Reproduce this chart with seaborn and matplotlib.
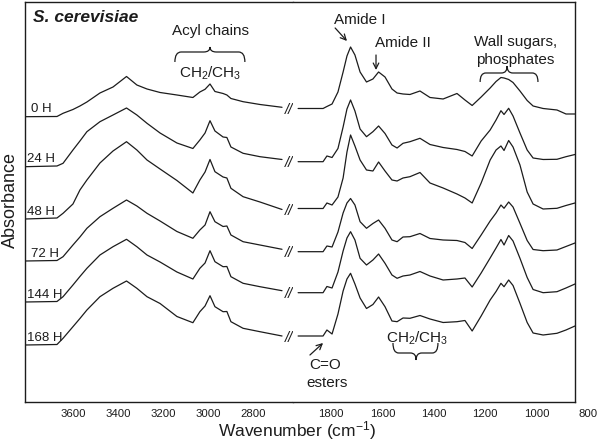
import numpy as np
import pandas as pd
import matplotlib
matplotlib.use("Agg")
import matplotlib.pyplot as plt
from matplotlib.path import Path
from matplotlib.patches import PathPatch
import seaborn as sns

# %%
times = ["0 H", "24 H", "48 H", "72 H", "144 H", "168 H"]

# high wavenumber window (cm-1)
wn_left = [3813, 3671, 3644, 3600, 3569, 3538, 3480, 3422, 3362, 3316, 3271, 3213,
           3138, 3067, 3036, 3013, 2991, 2969, 2933, 2916, 2898, 2844, 2769, 2671]

left_0h = [2.853, 2.855, 2.887, 2.925, 2.96, 3.00, 3.09, 3.15, 3.255, 3.17, 3.13, 3.095,
           3.07, 3.045, 3.10, 3.127, 3.18, 3.105, 3.085, 3.07, 3.035, 3.003, 2.975, 2.947]
left_24h = [2.353, 2.36, 2.387, 2.52, 2.61, 2.703, 2.803, 2.87, 2.94, 2.87, 2.787, 2.69,
            2.59, 2.535, 2.62, 2.69, 2.813, 2.71, 2.65, 2.645, 2.55, 2.487, 2.453, 2.425]
left_48h = [1.83, 1.84, 1.887, 1.98, 2.12, 2.22, 2.39, 2.51, 2.603, 2.52, 2.42, 2.33,
            2.215, 2.09, 2.22, 2.30, 2.425, 2.303, 2.25, 2.24, 2.137, 2.053, 2.00, 1.925]
left_72h = [1.41, 1.415, 1.453, 1.57, 1.65, 1.737, 1.853, 1.937, 2.02, 1.96, 1.887, 1.81,
            1.705, 1.637, 1.72, 1.77, 1.903, 1.803, 1.755, 1.76, 1.67, 1.603, 1.57, 1.527]
left_144h = [1.00, 1.005, 1.053, 1.17, 1.255, 1.337, 1.47, 1.553, 1.627, 1.553, 1.47, 1.40,
             1.30, 1.23, 1.337, 1.39, 1.513, 1.403, 1.353, 1.355, 1.253, 1.187, 1.153, 1.113]
left_168h = [0.57, 0.575, 0.637, 0.753, 0.835, 0.92, 1.053, 1.137, 1.21, 1.137, 1.053, 0.985,
             0.855, 0.793, 0.903, 0.96, 1.063, 0.953, 0.903, 0.905, 0.803, 0.737, 0.703, 0.66]

# fingerprint window (cm-1)
wn_right = [1928, 1831, 1816, 1796, 1773, 1753, 1738, 1724, 1707, 1687, 1662, 1637, 1615,
            1590, 1563, 1543, 1520, 1493, 1454, 1415, 1364, 1310, 1279, 1251, 1216, 1181,
            1158, 1139, 1127, 1109, 1092, 1065, 1037, 1014, 975, 921, 886, 851]

right_0h = [2.935, 2.935, 2.955, 2.98, 3.10, 3.30, 3.46, 3.55, 3.47, 3.30, 3.20, 3.23, 3.30,
            3.25, 3.13, 3.09, 3.08, 3.075, 3.11, 3.045, 3.03, 3.085, 3.02, 2.965, 3.05, 3.14,
            3.205, 3.245, 3.24, 3.225, 3.195, 3.11, 3.015, 2.96, 2.935, 2.92, 2.88, 2.88]
right_24h = [2.403, 2.403, 2.46, 2.445, 2.535, 2.75, 2.93, 3.02, 2.91, 2.73, 2.653, 2.703, 2.76,
             2.685, 2.57, 2.54, 2.587, 2.603, 2.637, 2.575, 2.545, 2.525, 2.505, 2.46, 2.61, 2.72,
             2.82, 2.913, 2.875, 2.937, 2.86, 2.69, 2.52, 2.44, 2.425, 2.427, 2.453, 2.475]
right_48h = [1.935, 1.935, 1.99, 1.97, 2.05, 2.24, 2.50, 2.67, 2.56, 2.42, 2.32, 2.31, 2.40,
             2.31, 2.22, 2.21, 2.24, 2.253, 2.295, 2.19, 2.14, 2.08, 2.04, 1.99, 2.19, 2.42,
             2.52, 2.56, 2.515, 2.615, 2.55, 2.37, 2.10, 1.98, 1.93, 1.937, 1.965, 1.99]
right_72h = [1.503, 1.503, 1.56, 1.55, 1.70, 1.89, 1.99, 2.035, 1.97, 1.803, 1.737, 1.785, 1.82,
             1.737, 1.62, 1.603, 1.65, 1.653, 1.685, 1.635, 1.62, 1.615, 1.595, 1.535, 1.67, 1.81,
             1.89, 1.97, 1.937, 2.00, 1.95, 1.787, 1.615, 1.525, 1.513, 1.52, 1.555, 1.59]
right_144h = [1.093, 1.093, 1.155, 1.14, 1.30, 1.51, 1.64, 1.703, 1.62, 1.437, 1.37, 1.42, 1.48,
              1.387, 1.27, 1.237, 1.26, 1.27, 1.305, 1.26, 1.22, 1.23, 1.24, 1.15, 1.29, 1.44,
              1.54, 1.625, 1.57, 1.665, 1.61, 1.437, 1.245, 1.125, 1.093, 1.103, 1.14, 1.18]
right_168h = [0.66, 0.66, 0.72, 0.68, 0.88, 1.11, 1.23, 1.287, 1.18, 1.04, 0.935, 0.975, 1.05,
              0.953, 0.81, 0.803, 0.84, 0.837, 0.865, 0.83, 0.795, 0.803, 0.815, 0.71, 0.86, 1.02,
              1.105, 1.187, 1.153, 1.22, 1.165, 0.987, 0.795, 0.69, 0.67, 0.687, 0.72, 0.76]

left_ticks = [3600, 3400, 3200, 3000, 2800]
right_ticks = [1800, 1600, 1400, 1200, 1000]

# %%
left_series = [left_0h, left_24h, left_48h, left_72h, left_144h, left_168h]
right_series = [right_0h, right_24h, right_48h, right_72h, right_144h, right_168h]

df_left = pd.concat(
    [pd.DataFrame({"wn": wn_left, "A": s, "time": t}) for t, s in zip(times, left_series)],
    ignore_index=True)
df_right = pd.concat(
    [pd.DataFrame({"wn": wn_right, "A": s, "time": t}) for t, s in zip(times, right_series)],
    ignore_index=True)

sns.set_style("white")
plt.rcParams["font.family"] = ["Liberation Sans", "DejaVu Sans"]
plt.rcParams["mathtext.default"] = "regular"

ink = "#1c1c1c"
fig = plt.figure(figsize=(6, 4.42), dpi=100)
ax1 = fig.add_axes([0.0417, 0.0905, 0.4467, 0.905])
ax2 = fig.add_axes([0.4883, 0.0905, 0.47, 0.905])

for ax, df in [(ax1, df_left), (ax2, df_right)]:
    sns.lineplot(data=df, x="wn", y="A", hue="time", hue_order=times,
                 palette=[ink] * len(times), estimator=None, sort=False,
                 legend=False, lw=0.9, ax=ax)
    ax.set_ylim(0, 4.0)
    ax.set_yticks([])
    ax.set_xlabel("")
    ax.set_ylabel("")
    ax.tick_params(axis="x", length=0, pad=5, labelsize=8.2, colors=ink)
    for sp in ax.spines.values():
        sp.set_color(ink)
        sp.set_linewidth(1.0)

ax1.set_xlim(3813, 2622)
ax2.set_xlim(1948, 851)
ax1.set_xticks(left_ticks)
ax2.set_xticks(right_ticks)
ax1.spines["right"].set_visible(False)
ax2.spines["left"].set_visible(False)
ax2.text(800, -0.0175, "800", transform=ax2.get_xaxis_transform(), ha="center", va="top",
         fontsize=8.2, color=ink, clip_on=False)

# curve labels and break marks
for t, sl, sr in zip(times, left_series, right_series):
    x_lab = 3785 if t in ("0 H", "72 H") else 3803
    ax1.text(x_lab, sl[0] + 0.012, t, ha="left", va="bottom", fontsize=9.5, color=ink)
    ax1.text(2640, (sl[-1] + sr[0]) / 2 - 0.025, "//", ha="center", va="center",
             fontsize=10.5, fontstyle="italic", color=ink, clip_on=False)

fig.text(0.018, 0.548, "Absorbance", rotation=90, ha="center", va="center",
         fontsize=13, color=ink)
fig.text(0.495, 0.012, "Wavenumber (cm$^{-1}$)", ha="center", va="baseline",
         fontsize=12.5, color=ink)
ax1.text(0.03, 0.962, "S. cerevisiae", transform=ax1.transAxes, ha="left", va="center",
         fontsize=12.5, fontweight="bold", fontstyle="italic", color=ink)


def brace(ax, x0, x1, xm, y_end, y_mid, y_tip, d):
    s = np.sign(x1 - x0)
    verts = [(x0, y_end), (x0, y_mid), (x0 + s * d, y_mid),
             (xm - s * d, y_mid), (xm, y_mid), (xm, y_tip),
             (xm, y_mid), (xm + s * d, y_mid),
             (x1 - s * d, y_mid), (x1, y_mid), (x1, y_end)]
    codes = [Path.MOVETO, Path.CURVE3, Path.CURVE3,
             Path.LINETO, Path.CURVE3, Path.CURVE3,
             Path.CURVE3, Path.CURVE3,
             Path.LINETO, Path.CURVE3, Path.CURVE3]
    ax.add_patch(PathPatch(Path(verts, codes), fill=False, lw=0.9, ec=ink, clip_on=False))


arrow = dict(arrowstyle="->", lw=0.9, color=ink, shrinkA=0, shrinkB=0)

ax1.text(2991, 3.71, "Acyl chains", ha="center", va="center", fontsize=11, color=ink)
brace(ax1, 3147, 2836, 2991, 3.40, 3.50, 3.55, 28)
ax1.text(2991, 3.29, "CH$_2$/CH$_3$", ha="center", va="center", fontsize=11, color=ink)

ax2.text(1687, 3.82, "Amide I", ha="center", va="center", fontsize=11, color=ink)
ax2.annotate("", xy=(1738, 3.61), xytext=(1784, 3.74), arrowprops=arrow)
ax2.text(1520, 3.59, "Amide II", ha="center", va="center", fontsize=11, color=ink)
ax2.annotate("", xy=(1625, 3.32), xytext=(1625, 3.47), arrowprops=arrow)
ax2.text(1084, 3.60, "Wall sugars,", ha="center", va="center", fontsize=11, color=ink)
ax2.text(1084, 3.42, "phosphates", ha="center", va="center", fontsize=11, color=ink)
brace(ax2, 1220, 995, 1115, 3.20, 3.29, 3.36, 22)

ax2.annotate("", xy=(1831, 0.59), xytext=(1882, 0.47), arrowprops=arrow)
ax2.text(1823, 0.37, "C=O", ha="center", va="center", fontsize=11, color=ink)
ax2.text(1816, 0.19, "esters", ha="center", va="center", fontsize=11, color=ink)
ax2.text(1465, 0.64, "CH$_2$/CH$_3$", ha="center", va="center", fontsize=11, color=ink)
brace(ax2, 1559, 1384, 1469, 0.59, 0.49, 0.42, 22)

fig.savefig("out.png", dpi=100)
